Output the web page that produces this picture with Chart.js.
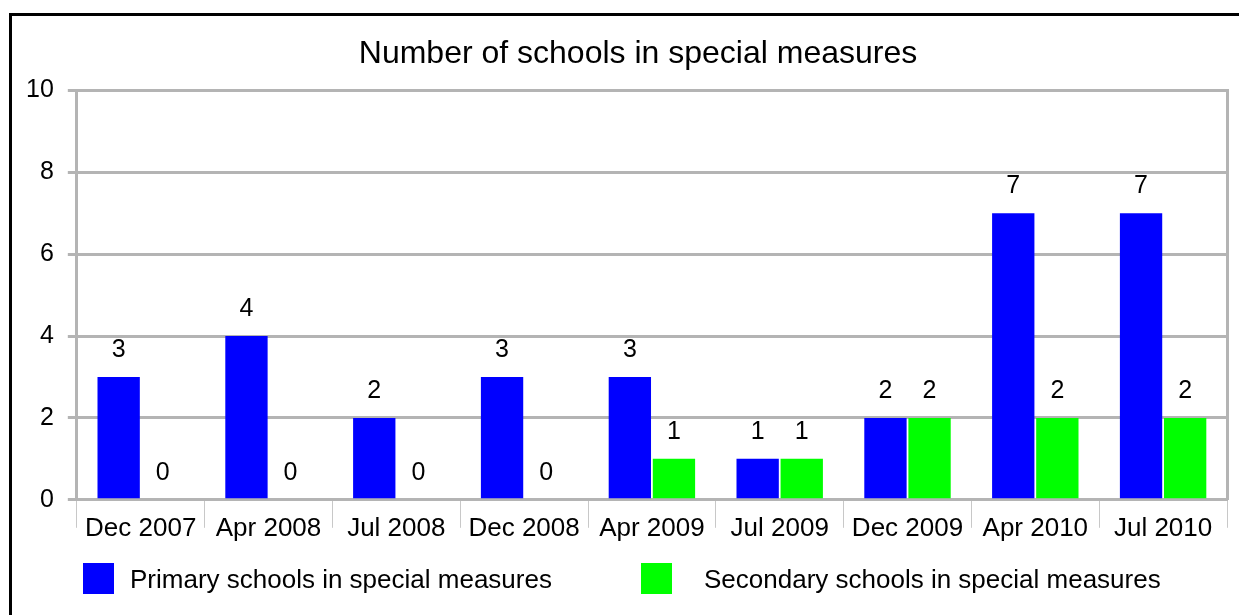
<!DOCTYPE html>
<html lang="en">
<head>
    <meta charset="UTF-8">
    <title>Number of schools in special measures</title>
    <style>
        body { margin: 0; background: #fff; overflow: hidden; font-family: Arial, "Liberation Sans", sans-serif; }
        #frame { position: absolute; left: 9px; top: 13px; width: 1400px; height: 800px; border: 3px solid #000; }
        #chartWrap { position: absolute; left: 0; top: 0; width: 1239px; height: 615px; }
        .legendBox { position: absolute; width: 31px; height: 31px; }
        .legendText { position: absolute; font-size: 26px; line-height: 30px; color: #000; white-space: nowrap; }
    </style>
</head>
<body>

<div id="frame"></div>

<div id="chartWrap">
    <canvas id="schoolsChart" width="1239" height="615"></canvas>
</div>

<!-- Legend (drawn as html so the wide spacing matches) -->
<div id="legend"></div>

<script src="https://cdn.jsdelivr.net/npm/chart.js"></script>
<script>
    // chart data
    const periods = ['Dec 2007', 'Apr 2008', 'Jul 2008', 'Dec 2008', 'Apr 2009', 'Jul 2009', 'Dec 2009', 'Apr 2010', 'Jul 2010'];
    const primarySchools = [3, 4, 2, 3, 3, 1, 2, 7, 7];
    const secondarySchools = [0, 0, 0, 0, 1, 1, 2, 2, 2];
    const seriesNames = ['Primary schools in special measures', 'Secondary schools in special measures'];
    const seriesColours = ['#0000ff', '#00ff00'];
    const yTicks = [0, 2, 4, 6, 8, 10];

    const fontFamily = 'Arial, "Liberation Sans", sans-serif';
    const gridGrey = '#b4b4b4';

    // legend
    const legendPos = [{ box: 83, text: 130 }, { box: 641, text: 704 }];
    const legend = document.getElementById('legend');
    seriesNames.forEach((name, i) => {
        const box = document.createElement('div');
        box.className = 'legendBox';
        box.style.left = legendPos[i].box + 'px';
        box.style.top = '563px';
        box.style.background = seriesColours[i];
        legend.appendChild(box);

        const txt = document.createElement('div');
        txt.className = 'legendText';
        txt.style.left = legendPos[i].text + 'px';
        txt.style.top = '564px';
        txt.textContent = name;
        legend.appendChild(txt);
    });

    // value labels above each bar
    const valueLabels = {
        id: 'valueLabels',
        afterLayout(chart) {
            // title is centred on the outer frame, not the canvas
            chart.titleBlock.left += 37;
        },
        afterDatasetsDraw(chart) {
            const ctx = chart.ctx;
            ctx.save();
            ctx.font = '25px ' + fontFamily;
            ctx.fillStyle = '#000';
            ctx.textAlign = 'center';
            ctx.textBaseline = 'middle';
            chart.data.datasets.forEach((ds, di) => {
                const meta = chart.getDatasetMeta(di);
                meta.data.forEach((bar, i) => {
                    ctx.fillText(String(ds.data[i]), bar.x, bar.y - 27);
                });
            });
            ctx.restore();
        }
    };

    const ctx = document.getElementById('schoolsChart').getContext('2d');
    new Chart(ctx, {
        type: 'bar',
        data: {
            labels: periods,
            datasets: [
                {
                    label: seriesNames[0],
                    data: primarySchools,
                    backgroundColor: seriesColours[0],
                    categoryPercentage: 0.69,
                    barPercentage: 0.96
                },
                {
                    label: seriesNames[1],
                    data: secondarySchools,
                    backgroundColor: seriesColours[1],
                    categoryPercentage: 0.69,
                    barPercentage: 0.96
                }
            ]
        },
        options: {
            responsive: false,
            animation: false,
            layout: { padding: { left: 12, right: 12, top: 15, bottom: 66 } },
            plugins: {
                legend: { display: false },
                tooltip: { enabled: false },
                title: {
                    display: true,
                    text: 'Number of schools in special measures',
                    color: '#000',
                    font: { family: fontFamily, size: 32, weight: 'normal' },
                    padding: { top: 20, bottom: 17 }
                }
            },
            scales: {
                x: {
                    // labels sit beside the separator ticks, so give the box extra room
                    afterFit: axis => { axis.height += 20; },
                    grid: {
                        drawOnChartArea: false,
                        tickLength: 28,
                        tickColor: '#c8c8c8',
                        tickWidth: 1
                    },
                    border: { color: gridGrey, width: 3 },
                    ticks: {
                        color: '#000',
                        padding: -15,
                        maxRotation: 0,
                        font: { family: fontFamily, size: 26 }
                    }
                },
                y: {
                    min: 0,
                    max: 10,
                    afterBuildTicks: axis => { axis.ticks = yTicks.map(v => ({ value: v })); },
                    grid: { color: gridGrey, lineWidth: 3, tickLength: 9 },
                    border: { color: gridGrey, width: 3 },
                    ticks: {
                        color: '#000',
                        padding: 14,
                        font: { family: fontFamily, size: 25 }
                    }
                },
                yRight: {
                    position: 'right',
                    display: true,
                    grid: { display: false, drawTicks: false },
                    ticks: { display: false },
                    border: { color: gridGrey, width: 3 }
                }
            }
        },
        plugins: [valueLabels]
    });
</script>

</body>
</html>
